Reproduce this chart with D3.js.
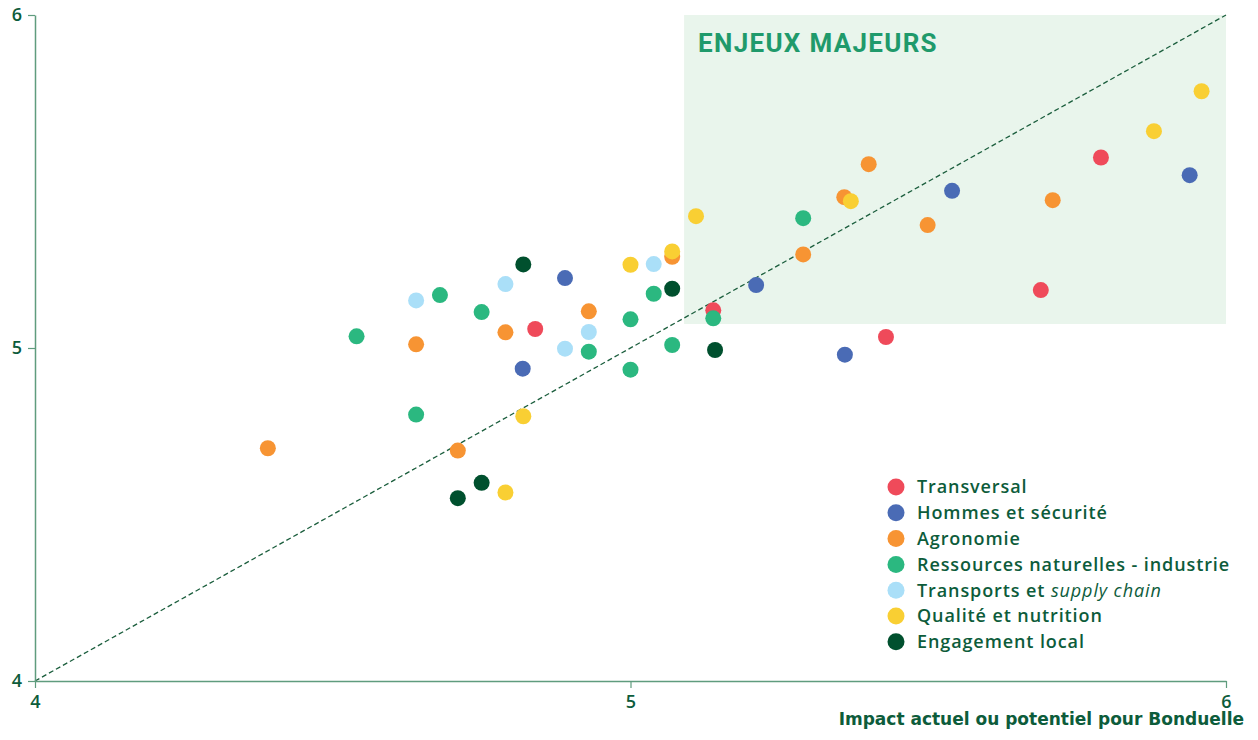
<!DOCTYPE html>
<html>
<head>
<meta charset="utf-8">
<script src="https://cdn.jsdelivr.net/npm/d3@7"></script>
<style>
    body { margin: 0; background: #fff; }
    svg { display: block; font-family: "DejaVu Sans", "Open Sans", sans-serif; }
    .axis .domain { stroke: #5f9c7e; stroke-width: 1.5; }
    .axis line { stroke: #5f9c7e; stroke-width: 1.2; }
    .axis text { fill: #0d5c3b; font-size: 18px; font-weight: 600; font-family: "Open Sans", sans-serif; }
</style>
</head>
<body>
<div id="chart"></div>
<script>
// Catégories et couleurs
const categories = ["Transversal", "Hommes et sécurité", "Agronomie", "Ressources naturelles - industrie",
    "Transports et supply chain", "Qualité et nutrition", "Engagement local"];
const colors = ["#ef4a5a", "#4a6bb5", "#f79433", "#2bb880", "#aadff8", "#f9cf33", "#00502e"];

// Points [impact pour Bonduelle, importance parties prenantes]
const transversal = [[4.84, 5.057], [5.139, 5.113], [5.429, 5.033], [5.689, 5.174], [5.79, 5.572]];
const hommes = [[4.89, 5.21], [4.819, 4.938], [5.211, 5.189], [5.36, 4.98], [5.54, 5.472], [5.939, 5.519]];
const agronomie = [[4.391, 4.699], [4.71, 4.692], [4.64, 5.011], [4.79, 5.047], [4.93, 5.11], [5.07, 5.274],
    [5.29, 5.281], [5.359, 5.453], [5.4, 5.552], [5.499, 5.369], [5.709, 5.444]];
const ressources = [[4.54, 5.035], [4.64, 4.8], [4.68, 5.159], [4.75, 5.108], [4.93, 4.989], [5.0, 5.086],
    [5.0, 4.935], [5.039, 5.163], [5.07, 5.009], [5.139, 5.089], [5.29, 5.39]];
const transports = [[4.64, 5.143], [4.79, 5.192], [4.89, 4.998], [4.93, 5.048], [5.039, 5.252]];
const qualite = [[4.79, 4.566], [4.82, 4.795], [5.0, 5.25], [5.07, 5.29], [5.11, 5.396], [5.37, 5.441],
    [5.879, 5.651], [5.959, 5.771]];
const engagement = [[4.71, 4.549], [4.75, 4.595], [4.82, 5.251], [5.07, 5.178], [5.142, 4.994]];
const series = [transversal, hommes, agronomie, ressources, transports, qualite, engagement];

const ticks = [4, 5, 6];
const zone = { x0: 5.09, y0: 5.072 }; // zone "enjeux majeurs"

const W = 1258, H = 740;
const margin = { top: 15, right: 32, bottom: 59, left: 35 };

const svg = d3.select("#chart").append("svg")
    .attr("width", W)
    .attr("height", H);

const x = d3.scaleLinear().domain([4, 6]).range([margin.left, W - margin.right]);
const y = d3.scaleLinear().domain([4, 6]).range([H - margin.bottom, margin.top]);

// Zone enjeux majeurs
svg.append("rect")
    .attr("x", x(zone.x0))
    .attr("y", y(6))
    .attr("width", x(6) - x(zone.x0))
    .attr("height", y(zone.y0) - y(6))
    .attr("fill", "#e9f5ec");

svg.append("text")
    .attr("x", x(zone.x0) + 14)
    .attr("y", y(6) + 37)
    .attr("fill", "#1f9a6b")
    .style("font-family", "Roboto, sans-serif")
    .style("font-weight", 700)
    .style("font-size", "26px")
    .style("letter-spacing", "1.3px")
    .text("ENJEUX MAJEURS");

// Diagonale
svg.append("line")
    .attr("x1", x(4)).attr("y1", y(4))
    .attr("x2", x(6)).attr("y2", y(6))
    .attr("stroke", "#1b5e3d")
    .attr("stroke-width", 1.3)
    .attr("stroke-dasharray", "5,3");

// Axes
const fmt = d3.format("d");
svg.append("g")
    .attr("class", "axis")
    .attr("transform", `translate(0,${y(4)})`)
    .call(d3.axisBottom(x).tickValues(ticks).tickFormat(fmt).tickSize(7).tickSizeOuter(0).tickPadding(7));

svg.append("g")
    .attr("class", "axis")
    .attr("transform", `translate(${x(4)},0)`)
    .call(d3.axisLeft(y).tickValues(ticks).tickFormat(fmt).tickSize(7).tickSizeOuter(0).tickPadding(6));

svg.selectAll(".axis .tick").filter(d => d === 6).select("line").attr("stroke", "#1d4a35");

svg.append("text")
    .attr("x", W - 14)
    .attr("y", 725)
    .attr("text-anchor", "end")
    .attr("fill", "#0d5c3b")
    .style("font-size", "17px")
    .style("font-weight", 700)
    .text("Impact actuel ou potentiel pour Bonduelle");

// Points
series.forEach((pts, i) => {
    svg.append("g")
        .selectAll("circle")
        .data(pts)
        .join("circle")
        .attr("cx", d => x(d[0]))
        .attr("cy", d => y(d[1]))
        .attr("r", 8)
        .attr("fill", colors[i]);
});

// Légende
const legend = svg.append("g").attr("transform", "translate(896,487)");
const rows = legend.selectAll("g")
    .data(categories)
    .join("g")
    .attr("transform", (d, i) => `translate(0,${i * 25.8})`);

rows.append("circle")
    .attr("r", 8.5)
    .attr("fill", (d, i) => colors[i]);

rows.append("text")
    .attr("x", 21)
    .attr("dy", "0.36em")
    .attr("fill", "#0d5c3b")
    .style("font-family", "'Open Sans', sans-serif")
    .style("font-size", "18px")
    .style("font-weight", 600)
    .style("letter-spacing", "0.9px")
    .each(function (d) {
        const t = d3.select(this);
        if (d.endsWith("supply chain")) {
            t.append("tspan").text("Transports et ");
            t.append("tspan").style("font-style", "italic").style("font-weight", 500).text("supply chain");
        } else {
            t.text(d);
        }
    });
</script>
</body>
</html>
